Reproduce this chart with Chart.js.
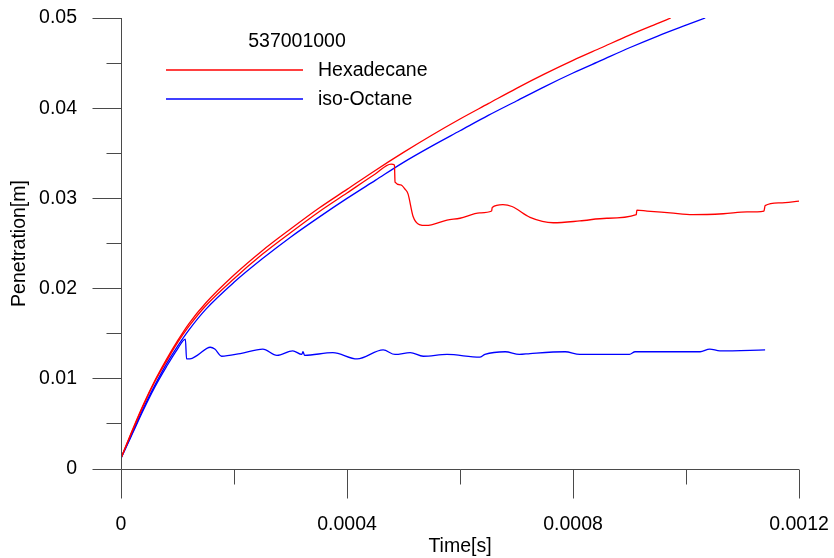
<!DOCTYPE html>
<html lang="en">
<head>
  <meta charset="UTF-8">
  <title>Penetration</title>
  <script src="https://cdn.jsdelivr.net/npm/chart.js"></script>
  <style>
    html, body { margin: 0; padding: 0; background: #fff; }
    canvas { display: block; }
  </style>
</head>
<body>
  <canvas id="grafico" width="834" height="558"></canvas>

  <script>
    // Hexadecane, vapour tip
    const hexVapT = [0, 0.00002, 0.00004, 0.00006, 0.00008, 0.0001, 0.00012, 0.00015, 0.0002, 0.00025,
      0.0003, 0.00035, 0.0004, 0.00045, 0.0005, 0.00055, 0.0006, 0.00065, 0.0007, 0.00075,
      0.0008, 0.00085, 0.0009, 0.00095, 0.000973];
    const hexVapP = [0.0012, 0.0043, 0.0072, 0.0098, 0.0121, 0.0142, 0.0161, 0.0184, 0.0215, 0.0242,
      0.0266, 0.0289, 0.0310, 0.0331, 0.0351, 0.0370, 0.0388, 0.0405, 0.0422, 0.0438,
      0.0453, 0.0467, 0.0481, 0.0494, 0.0500];

    // Hexadecane, liquid tip
    const hexLiqT = [0, 0.00002, 0.00004, 0.00006, 0.00008, 0.0001, 0.00012, 0.00015, 0.0002, 0.00025,
      0.0003, 0.00035, 0.0004, 0.00045, 0.000478, 0.000484, 0.000485, 0.000495, 0.000503, 0.000508,
      0.000517, 0.000528, 0.00054, 0.000577, 0.0006, 0.000635, 0.000656, 0.000657, 0.000676, 0.000692,
      0.000724, 0.000765, 0.000812, 0.00086, 0.000912, 0.000913, 0.000931, 0.000972, 0.001012, 0.001066,
      0.001108, 0.001138, 0.00114, 0.001166, 0.0012];
    const hexLiqP = [0.0012, 0.0042, 0.0071, 0.0097, 0.0119, 0.0140, 0.0158, 0.0181, 0.0211, 0.0238,
      0.0262, 0.0285, 0.0306, 0.0327, 0.0338, 0.0337, 0.0318, 0.0315, 0.0310, 0.0305,
      0.0280, 0.0271, 0.0270, 0.0276, 0.0278, 0.0284, 0.0286, 0.0290, 0.0293, 0.0291,
      0.0279, 0.0273, 0.0275, 0.0278, 0.0282, 0.0287, 0.0286, 0.0284, 0.0282, 0.0283,
      0.0285, 0.0286, 0.0292, 0.0295, 0.0297];

    // iso-Octane, vapour tip
    const isoVapT = [0, 0.00002, 0.00004, 0.00006, 0.00008, 0.0001, 0.00012, 0.00015, 0.0002, 0.00025,
      0.0003, 0.00035, 0.0004, 0.00045, 0.0005, 0.00055, 0.0006, 0.00065, 0.0007, 0.00075,
      0.0008, 0.00085, 0.0009, 0.00095, 0.001, 0.001034];
    const isoVapP = [0.0012, 0.0040, 0.0068, 0.0093, 0.0116, 0.0136, 0.0154, 0.0177, 0.0207, 0.0233,
      0.0257, 0.0279, 0.0300, 0.0320, 0.0340, 0.0358, 0.0375, 0.0392, 0.0408, 0.0424,
      0.0439, 0.0453, 0.0467, 0.0480, 0.0492, 0.0500];

    // iso-Octane, liquid tip
    const isoLiqT = [0, 0.00002, 0.00004, 0.00006, 0.00008, 0.0001, 0.000114, 0.000116, 0.000122, 0.000135,
      0.000158, 0.000166, 0.000178, 0.000211, 0.000251, 0.000276, 0.000304, 0.00032, 0.000322, 0.000325,
      0.000375, 0.000418, 0.000464, 0.000485, 0.000512, 0.000535, 0.000577, 0.000635, 0.000644, 0.00068,
      0.000705, 0.000724, 0.000786, 0.000812, 0.0009, 0.00091, 0.001025, 0.001042, 0.00106, 0.00114];
    const isoLiqP = [0.0012, 0.0039, 0.0066, 0.0091, 0.0113, 0.0133, 0.0144, 0.0122, 0.0122, 0.0126,
      0.0135, 0.0133, 0.0125, 0.0128, 0.0133, 0.0126, 0.0131, 0.0127, 0.0130, 0.0126,
      0.0129, 0.0122, 0.0132, 0.0127, 0.0129, 0.0125, 0.0127, 0.0124, 0.0127, 0.0130,
      0.0127, 0.0128, 0.0130, 0.0127, 0.0127, 0.0130, 0.0130, 0.0133, 0.0131, 0.0132];

    const xMajor = [0, 0.0004, 0.0008, 0.0012];
    const xMinor = [0.0002, 0.0006, 0.001];
    const yMajor = [0, 0.01, 0.02, 0.03, 0.04, 0.05];
    const yMinor = [0.005, 0.015, 0.025, 0.035, 0.045];

    const legendTitle = "537001000";
    const legendNames = ["Hexadecane", "iso-Octane"];

    const rojo = "#ff0000";
    const azul = "#0000ff";
    const ejeColor = "#4a4a4a";
    const fuente = "Liberation Sans, Arial, sans-serif";

    const puntos = (t, p) => t.map((v, i) => ({ x: v, y: p[i] }));

    const linea = (data, color) => ({
      data: data,
      borderColor: color,
      borderWidth: 1.3,
      pointRadius: 0,
      fill: false,
      cubicInterpolationMode: "monotone"
    });

    const alinear = (v) => Math.round(v - 0.5) + 0.5;

    // axis lines with long major and short minor ticks
    const ejes = {
      id: "ejes",
      afterDraw(chart) {
        const { ctx, chartArea: a, scales: { x, y } } = chart;
        ctx.save();
        ctx.strokeStyle = ejeColor;
        ctx.lineWidth = 1;
        ctx.beginPath();
        const x0 = alinear(a.left);
        const y0 = alinear(a.bottom);
        ctx.moveTo(x0, a.top);
        ctx.lineTo(x0, y0);
        ctx.moveTo(x0, y0);
        ctx.lineTo(a.right, y0);
        yMajor.forEach(v => {
          const py = alinear(y.getPixelForValue(v));
          ctx.moveTo(x0 - 29, py); ctx.lineTo(x0, py);
        });
        yMinor.forEach(v => {
          const py = alinear(y.getPixelForValue(v));
          ctx.moveTo(x0 - 15, py); ctx.lineTo(x0, py);
        });
        xMajor.forEach(v => {
          const px = alinear(x.getPixelForValue(v));
          ctx.moveTo(px, y0); ctx.lineTo(px, y0 + 29);
        });
        xMinor.forEach(v => {
          const px = alinear(x.getPixelForValue(v));
          ctx.moveTo(px, y0); ctx.lineTo(px, y0 + 15);
        });
        ctx.stroke();
        ctx.restore();
      }
    };

    // legend box inside the plot
    const leyenda = {
      id: "leyenda",
      afterDraw(chart) {
        const ctx = chart.ctx;
        ctx.save();
        ctx.font = "19.5px " + fuente;
        ctx.fillStyle = "#000";
        ctx.textBaseline = "middle";
        ctx.textAlign = "center";
        ctx.fillText(legendTitle, 297, 42);
        ctx.textAlign = "left";
        [rojo, azul].forEach((c, i) => {
          const ly = 70 + i * 29;
          ctx.strokeStyle = c;
          ctx.lineWidth = 1.3;
          ctx.beginPath();
          ctx.moveTo(166, ly);
          ctx.lineTo(303, ly);
          ctx.stroke();
          ctx.fillText(legendNames[i], 318, ly + 1);
        });
        ctx.restore();
      }
    };

    // the tick padding also feeds the scale's edge padding; drop that so the plot keeps its frame
    const sinBorde = s => {
      s.paddingTop = 0; s.paddingBottom = 0;
      s.paddingLeft = 0; s.paddingRight = 0;
    };

    Chart.defaults.font.family = fuente;
    Chart.defaults.font.size = 19.5;
    Chart.defaults.color = "#000";

    new Chart(document.getElementById("grafico"), {
      type: "line",
      data: {
        datasets: [
          linea(puntos(hexVapT, hexVapP), rojo),
          linea(puntos(hexLiqT, hexLiqP), rojo),
          linea(puntos(isoVapT, isoVapP), azul),
          linea(puntos(isoLiqT, isoLiqP), azul)
        ]
      },
      options: {
        responsive: false,
        animation: false,
        layout: { padding: { top: 18, right: 35, left: 0, bottom: 0 } },
        plugins: {
          legend: { display: false },
          tooltip: { enabled: false }
        },
        scales: {
          x: {
            type: "linear",
            min: 0,
            max: 0.0012,
            afterFit: s => { s.height = 89; sinBorde(s); },
            afterBuildTicks: s => { s.ticks = xMajor.map(v => ({ value: v })); },
            grid: { display: false, drawTicks: false },
            border: { display: false },
            ticks: {
              padding: 44,
              autoSkip: false,
              maxRotation: 0,
              callback: v => String(+v.toFixed(5))
            },
            title: { display: true, text: "Time[s]", padding: { top: 0, bottom: 0 } }
          },
          y: {
            type: "linear",
            min: 0,
            max: 0.05,
            afterFit: s => { s.width = 121; sinBorde(s); },
            afterBuildTicks: s => { s.ticks = yMajor.map(v => ({ value: v })); },
            grid: { display: false, drawTicks: false },
            border: { display: false },
            ticks: {
              padding: 44,
              autoSkip: false,
              callback: v => String(+v.toFixed(3))
            },
            title: { display: true, text: "Penetration[m]", padding: { top: 8, bottom: 0 } }
          }
        }
      },
      plugins: [ejes, leyenda]
    });
  </script>
</body>
</html>
